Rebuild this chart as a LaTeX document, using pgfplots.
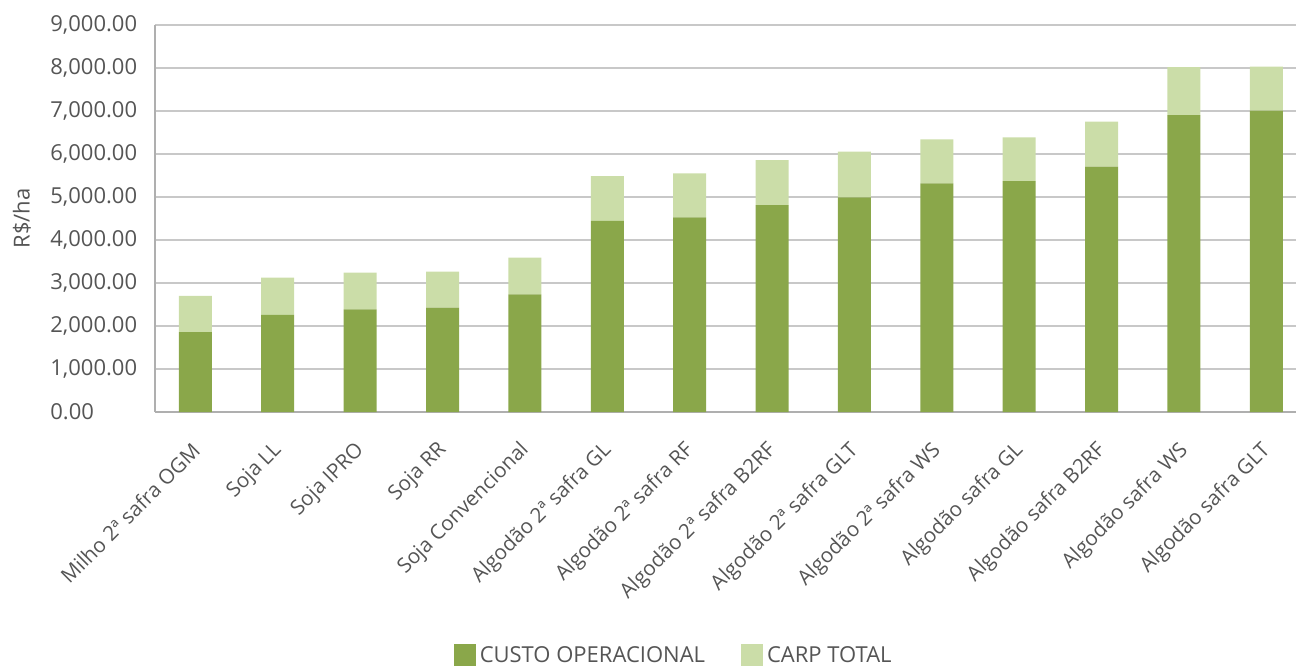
\documentclass[border=0pt]{standalone}
\usepackage{fontspec}
\setmainfont{Open Sans}
\usepackage{pgfplots}
\pgfplotsset{compat=1.18}
\definecolor{custo}{RGB}{138,167,74}
\definecolor{carp}{RGB}{203,221,168}
\definecolor{gridc}{RGB}{200,200,200}
\definecolor{axc}{RGB}{175,175,175}
\definecolor{txt}{RGB}{85,85,85}
\begin{document}
\begin{tikzpicture}
\begin{axis}[
  scale only axis, width=570.5pt, height=193.5pt,
  ybar stacked, bar width=16.5pt,
  xmin=-0.49, xmax=13.36, ymin=0, ymax=9000,
  ytick={0,1000,...,9000},
  xtick={0,...,13},
  xticklabels={Milho 2ª safra OGM, Soja LL, Soja IPRO, Soja RR, Soja Convencional, Algodão 2ª safra GL, Algodão 2ª safra RF, Algodão 2ª safra B2RF, Algodão 2ª safra GLT, Algodão 2ª safra WS, Algodão safra GL, Algodão safra B2RF, Algodão safra WS, Algodão safra GLT},
  axis x line*=bottom, axis y line*=left,
  axis line style={axc, line width=1pt, -},
  major tick length=0pt,
  ymajorgrids, grid style={gridc, line width=1pt},
  /pgf/number format/.cd, fixed, fixed zerofill, precision=2, 1000 sep={,}, assume math mode=true,
  /pgfplots/.cd,
  yticklabel style={font=\fontsize{11}{13}\selectfont, text=txt, anchor=west, inner sep=0pt, xshift=-52.5pt},
  xticklabel style={font=\fontsize{10.3}{12}\selectfont, text=txt, anchor=east, inner sep=0pt, xshift=0.5pt, yshift=-17.5pt, rotate=45},
  ylabel={R\$/ha},
  every axis y label/.style={at={(rel axis cs:0,0.5)}, anchor=center, xshift=-66.5pt, rotate=90, font=\fontsize{11}{13}\selectfont, text=txt},
  legend style={draw=none, at={(rel axis cs:0.2615,-0.63)}, anchor=west, legend columns=2,
    font=\fontsize{11}{13}\selectfont, text=txt, inner sep=0pt,
    /tikz/every even column/.append style={column sep=16pt}},
  legend image code/.code={\fill[#1] (0pt,-5pt) rectangle (11pt,6pt);},
]
\addplot[fill=custo, draw=none] coordinates {
(0,1860) (1,2256) (2,2388) (3,2426) (4,2736) (5,4442) (6,4527) (7,4814) (8,4992) (9,5318) (10,5372) (11,5705) (12,6907) (13,7007)};
\addplot[fill=carp, draw=none] coordinates {
(0,840) (1,867) (2,852) (3,837) (4,853) (5,1046) (6,1023) (7,1046) (8,1062) (9,1023) (10,1016) (11,1046) (12,1113) (13,1023)};
\legend{CUSTO OPERACIONAL, CARP TOTAL}
\end{axis}
\pgfresetboundingbox
\path (-77.5pt,-128.5pt) rectangle (570.5pt,206pt);
\end{tikzpicture}
\end{document}
